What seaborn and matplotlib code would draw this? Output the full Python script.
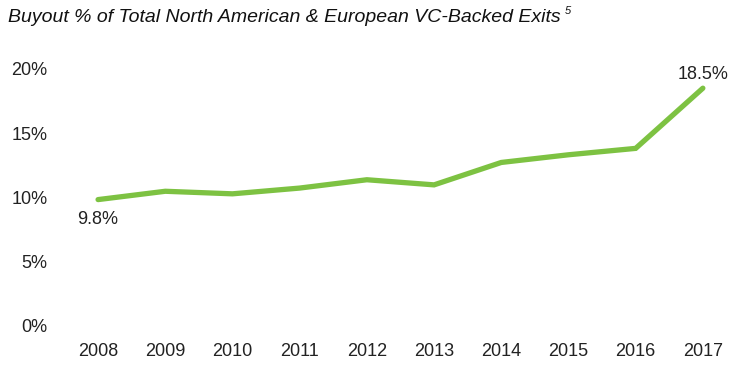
import pandas as pd
import seaborn as sns
import matplotlib.pyplot as plt
import matplotlib.ticker as mticker

years = ['2008', '2009', '2010', '2011', '2012', '2013', '2014', '2015', '2016', '2017']
buyout_pct = [9.8, 10.45, 10.25, 10.7, 11.35, 10.95, 12.7, 13.3, 13.8, 18.5]

df = pd.DataFrame({'year': years, 'pct': buyout_pct})
df['pos'] = range(len(df))

sns.set_theme(style='white')
plt.rcParams['font.family'] = ['Liberation Sans', 'DejaVu Sans']

fig = plt.figure(figsize=(7.47, 3.78), dpi=100)
ax = fig.add_axes([0.08, 0.14, 0.905, 0.6775])

sns.lineplot(data=df, x='pos', y='pct', color='#7dc242', linewidth=3.8,
             solid_capstyle='round', solid_joinstyle='miter', ax=ax)

ax.set_xlim(-0.57, 9.49)
ax.set_ylim(0, 20)
ax.set_xticks(df['pos'])
ax.set_xticklabels(years)
ax.yaxis.set_major_locator(mticker.MultipleLocator(5))
ax.yaxis.set_major_formatter(mticker.FuncFormatter(lambda v, _: f'{v:.0f}%'))
ax.tick_params(axis='both', length=0, labelsize=13, colors='#222222')
ax.tick_params(axis='x', pad=13)
ax.tick_params(axis='y', pad=9)
ax.set_xlabel('')
ax.set_ylabel('')
for s in ax.spines.values():
    s.set_visible(False)

# end-point labels
ax.annotate(f'{buyout_pct[0]}%', (0, buyout_pct[0]), xytext=(0, -8),
            textcoords='offset points', ha='center', va='top',
            fontsize=13, color='#222222')
ax.annotate(f'{buyout_pct[-1]}%', (9, buyout_pct[-1]), xytext=(0, 4),
            textcoords='offset points', ha='center', va='bottom',
            fontsize=13, color='#222222')

fig.text(0.011, 0.955, 'Buyout % of Total North American & European VC-Backed Exits',
         fontsize=14, style='italic', color='#111111', va='center', ha='left')
fig.text(0.756, 0.97, '5', fontsize=8, style='italic', color='#111111',
         va='center', ha='left')

fig.savefig('out.png', dpi=100)
